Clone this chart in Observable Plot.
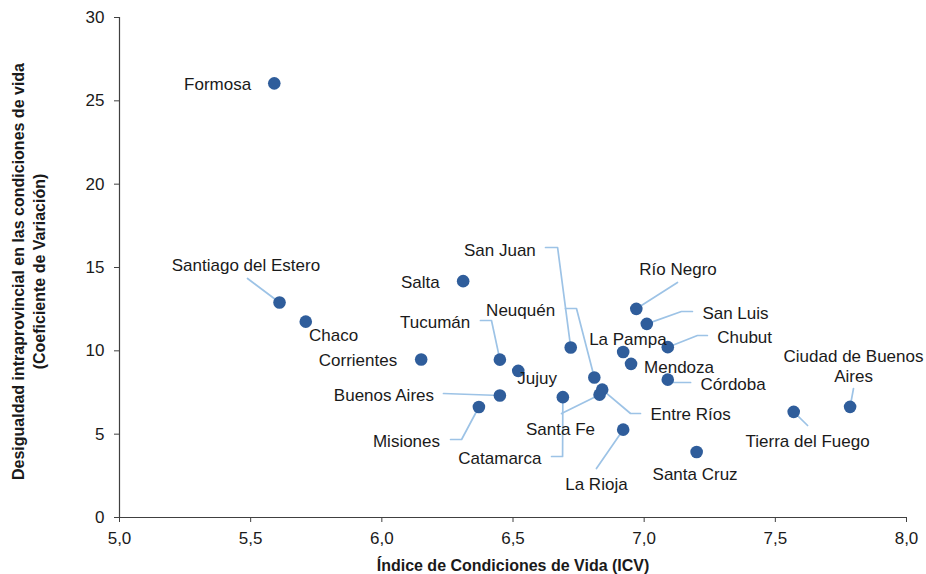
<!DOCTYPE html>
<html>
<head>
<meta charset="utf-8">
<script src="https://cdn.jsdelivr.net/npm/d3@7"></script>
<script src="https://cdn.jsdelivr.net/npm/@observablehq/plot@0.6"></script>
<style>
  html, body { margin: 0; padding: 0; background: #ffffff; }
  #chart { width: 926px; height: 574px; }
</style>
</head>
<body>
<div id="chart"></div>
<script>
// ---- Data ----
const provinces = ["Formosa","Santiago del Estero","Chaco","Corrientes","Salta","Tucumán","Jujuy","Buenos Aires","Misiones","San Juan","Catamarca","Neuquén","Santa Fe","Entre Ríos","La Rioja","La Pampa","Mendoza","Río Negro","San Luis","Chubut","Córdoba","Santa Cruz","Tierra del Fuego","Ciudad de Buenos Aires"];
const icv = [5.59,5.61,5.71,6.15,6.31,6.45,6.52,6.45,6.37,6.72,6.69,6.81,6.83,6.84,6.92,6.92,6.95,6.97,7.01,7.09,7.09,7.20,7.57,7.785];
const cv  = [26.05,12.9,11.75,9.48,14.18,9.47,8.8,7.32,6.63,10.2,7.22,8.4,7.37,7.67,5.27,9.93,9.22,12.52,11.62,10.22,8.27,3.93,6.34,6.64];

// Data-label placement (in data units)
const labelText = ["Formosa","Santiago del Estero","Chaco","Corrientes","Salta","Tucumán","Jujuy","Buenos Aires","Misiones","San Juan","Catamarca","Neuquén","Santa Fe","Entre Ríos","La Rioja","La Pampa","Mendoza","Río Negro","San Luis","Chubut","Córdoba","Santa Cruz","Tierra del Fuego","Ciudad de Buenos\nAires"];
const labelX = [5.374,5.482,5.816,5.909,6.147,6.203,6.592,6.008,6.094,6.450,6.450,6.529,6.681,7.177,6.818,6.938,7.133,7.129,7.348,7.383,7.339,7.194,7.623,7.798];
const labelY = [26.04,15.18,10.98,9.48,14.16,11.76,8.4,7.38,4.62,16.08,3.6,12.48,5.34,6.24,2.04,10.74,9.06,14.94,12.3,10.86,8.04,2.64,4.62,9.12];

// Leader lines: province name, then the bend / end points (data units)
const leaderNames = ["Santiago del Estero","Tucumán","San Juan","Neuquén","Buenos Aires","Misiones","Catamarca","Santa Fe","Entre Ríos","La Rioja","Río Negro","San Luis","Chubut","Córdoba","Ciudad de Buenos Aires","Tierra del Fuego"];
const leaderBends = [
  [[5.488,14.34]],
  [[6.418,11.82],[6.376,11.82]],
  [[6.670,16.2],[6.624,16.2]],
  [[6.742,12.54],[6.700,12.54]],
  [[6.235,7.44]],
  [[6.304,4.68],[6.262,4.68]],
  [[6.689,3.66],[6.647,3.66]],
  [[6.685,6.24]],
  [[6.948,6.24],[6.986,6.24]],
  [[6.818,2.94]],
  [[7.127,14.1]],
  [[7.142,12.36],[7.184,12.36]],
  [[7.203,10.92],[7.241,10.92]],
  [[7.112,8.1],[7.177,8.1]],
  [[7.798,7.74]],
  [[7.623,5.52]]
];

const xTicks = [5, 5.5, 6, 6.5, 7, 7.5, 8];
const yTicks = [0, 5, 10, 15, 20, 25, 30];
const xTitle = "Índice de Condiciones de Vida (ICV)";
const yTitle = "Desigualdad intraprovincial en las condiciones de vida\n(Coeficiente de Variación)";

// ---- Build tables ----
const points = provinces.map((p, i) => ({name: p, x: icv[i], y: cv[i]}));
const labels = labelText.map((t, i) => ({text: t, x: labelX[i], y: labelY[i]}));
const leaderRows = [];
leaderNames.forEach((n, k) => {
  const i = provinces.indexOf(n);
  leaderRows.push({name: n, x: icv[i], y: cv[i]});
  leaderBends[k].forEach(([x, y]) => leaderRows.push({name: n, x, y}));
});

const axisColor = "#404040";
const textColor = "#1a1a1a";
const fmt = d => d.toFixed(1).replace(".", ",");

const chart = Plot.plot({
  width: 926,
  height: 574,
  marginLeft: 119,
  marginRight: 20,
  marginTop: 17,
  marginBottom: 57,
  style: {fontFamily: "'Liberation Sans', Arial, sans-serif", fontSize: "17px", background: "#ffffff", color: textColor},
  x: {domain: [5, 8]},
  y: {domain: [0, 30]},
  marks: [
    Plot.axisX({ticks: xTicks, tickFormat: fmt, tickSize: 5, tickPadding: 9, stroke: axisColor, fill: textColor, fontSize: 17, label: null}),
    Plot.axisY({ticks: yTicks, tickSize: 5, tickPadding: 10, stroke: axisColor, fill: textColor, fontSize: 17, label: null}),
    Plot.ruleY([0], {stroke: axisColor, strokeWidth: 1.2}),
    Plot.ruleX([5], {stroke: axisColor, strokeWidth: 1.2}),
    Plot.line(leaderRows, {x: "x", y: "y", z: "name", stroke: "#9DC3E6", strokeWidth: 1.7}),
    Plot.dot(points, {x: "x", y: "y", r: 6.3, fill: "#2F5D9B", stroke: "none"}),
    Plot.text(labels, {x: "x", y: "y", text: "text", fontSize: 17, fill: textColor, lineHeight: 1.18, textAnchor: "middle"}),
    Plot.text([xTitle], {frameAnchor: "bottom", dy: 48, lineAnchor: "middle", textAnchor: "middle", fontSize: 16, fontWeight: "bold", fill: textColor, text: d => d}),
    Plot.text([yTitle], {frameAnchor: "left", dx: -92, dy: 4, rotate: -90, textAnchor: "middle", lineAnchor: "middle", fontSize: 16, fontWeight: "bold", fill: textColor, lineHeight: 1.3, text: d => d})
  ]
});
document.getElementById("chart").appendChild(chart);
</script>
</body>
</html>
